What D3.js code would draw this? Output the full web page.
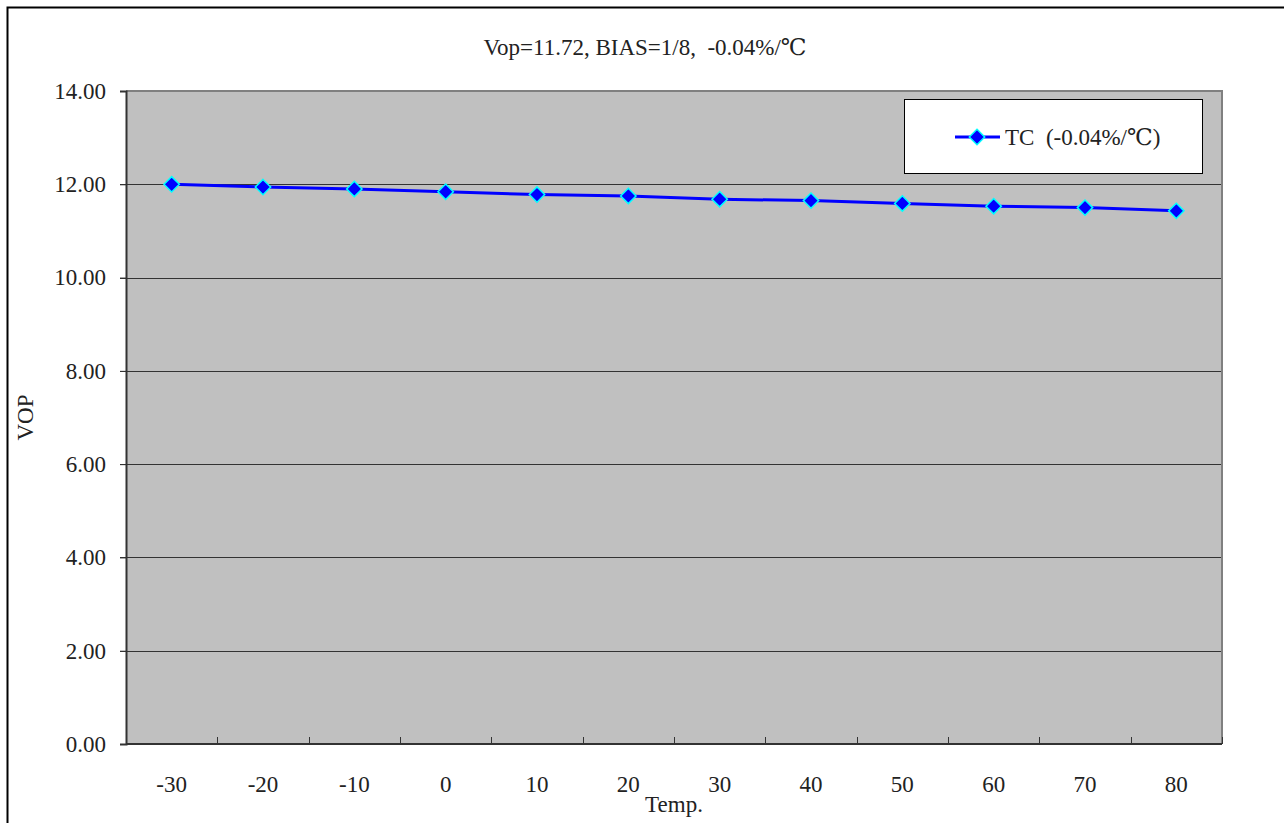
<!DOCTYPE html>
<html><head><meta charset="utf-8">
<script src="https://cdn.jsdelivr.net/npm/d3@7"></script>
<style>body{margin:0;background:#fff}svg{display:block}text{white-space:pre}</style>
</head><body>
<script>
const temps = ["-30","-20","-10","0","10","20","30","40","50","60","70","80"];
const vop = [12.00, 11.94, 11.90, 11.84, 11.78, 11.75, 11.68, 11.65, 11.59, 11.53, 11.50, 11.43];
const yTicks = [0, 2, 4, 6, 8, 10, 12, 14];
const titleText = "Vop=11.72, BIAS=1/8,  -0.04%/\u2103";
const seriesName = "TC  (-0.04%/\u2103)";
const xTitle = "Temp.";
const yTitle = "VOP";

const W = 1284, H = 823;
const L = 126, R = 1222, T = 91, B = 744;
const font = "'Liberation Serif','Times New Roman','DejaVu Serif',serif";
const fs = 23;

const svg = d3.select("body").append("svg").attr("width", W).attr("height", H);
svg.append("path").attr("d", `M7.5,${H+5}V7.5H${W+5}`).attr("fill","none").attr("stroke","#000").attr("stroke-width",2);

const x = d3.scaleBand().domain(temps).range([L, R]);
const y = d3.scaleLinear().domain([0, 14]).range([B, T]);

svg.append("rect").attr("x", L).attr("y", T).attr("width", R-L).attr("height", B-T).attr("fill", "#C0C0C0");

svg.append("g").selectAll("line").data(yTicks.filter(v => v > 0 && v < 14)).join("line")
  .attr("x1", L-6).attr("x2", R).attr("y1", d => Math.round(y(d))+0.5).attr("y2", d => Math.round(y(d))+0.5)
  .attr("stroke", "#333").attr("stroke-width", 1);

svg.append("path").attr("d", `M${L},${T}H${R}V${B}`).attr("fill","none").attr("stroke","#808080").attr("stroke-width",2);

const yAxis = d3.axisLeft(y).tickValues(yTicks).tickSize(6).tickPadding(14).tickFormat(d3.format(".2f"));
const gy = svg.append("g").attr("transform", `translate(${L},0)`).call(yAxis);
gy.select(".domain").attr("stroke", "#333").attr("stroke-width", 2);
gy.selectAll(".tick line").attr("stroke", "#333");
gy.selectAll("text").attr("font-family", font).attr("font-size", fs).attr("fill", "#222");

const gx = svg.append("g").attr("transform", `translate(0,${B})`);
gx.append("line").attr("x1", L).attr("x2", R).attr("y1", 0).attr("y2", 0).attr("stroke", "#333").attr("stroke-width", 2);
const bounds = temps.map(t => x(t)).concat([R]);
gx.selectAll("line.tk").data(bounds).join("line").attr("class","tk")
  .attr("x1", d => Math.round(d)+0.5).attr("x2", d => Math.round(d)+0.5).attr("y1", 0).attr("y2", -7)
  .attr("stroke", "#333").attr("stroke-width", 1);
gx.selectAll("text").data(temps).join("text")
  .attr("x", d => x(d) + x.bandwidth()/2).attr("y", 48)
  .attr("text-anchor", "middle").attr("font-family", font).attr("font-size", fs).attr("fill", "#222")
  .text(d => d);

svg.append("text").attr("x", 645).attr("y", 55).attr("text-anchor","middle")
  .attr("font-family", font).attr("font-size", fs).attr("fill","#222").text(titleText);
svg.append("text").attr("x", (L+R)/2).attr("y", 812).attr("text-anchor","middle")
  .attr("font-family", font).attr("font-size", fs).attr("fill","#222").text(xTitle);
svg.append("text").attr("transform", `translate(33,${(T+B)/2}) rotate(-90)`).attr("text-anchor","middle")
  .attr("font-family", font).attr("font-size", fs).attr("fill","#222").text(yTitle);

const cx = d => x(d) + x.bandwidth()/2;
const data = temps.map((t, i) => ({t, v: vop[i]}));
svg.append("path").datum(data)
  .attr("d", d3.line().x(d => cx(d.t)).y(d => y(d.v)))
  .attr("fill","none").attr("stroke","#0000FF").attr("stroke-width",3);
const diamond = d3.symbol().type(d3.symbolDiamond2).size(150);
svg.append("g").selectAll("path").data(data).join("path")
  .attr("transform", d => `translate(${cx(d.t)},${y(d.v)})`)
  .attr("d", diamond).attr("fill","#0000FF").attr("stroke","#00FFFF").attr("stroke-width",1.5);

const lg = svg.append("g");
lg.append("rect").attr("x", 904.5).attr("y", 99.5).attr("width", 298).attr("height", 74)
  .attr("fill","#fff").attr("stroke","#000").attr("stroke-width",1);
lg.append("line").attr("x1", 955).attr("x2", 1000).attr("y1", 137).attr("y2", 137).attr("stroke","#0000FF").attr("stroke-width",3);
lg.append("path").attr("transform","translate(977,137)").attr("d", diamond)
  .attr("fill","#0000FF").attr("stroke","#00FFFF").attr("stroke-width",1.5);
lg.append("text").attr("x", 1005).attr("y", 145).attr("font-family", font).attr("font-size", fs).attr("fill","#222").text(seriesName);
</script>
</body></html>
